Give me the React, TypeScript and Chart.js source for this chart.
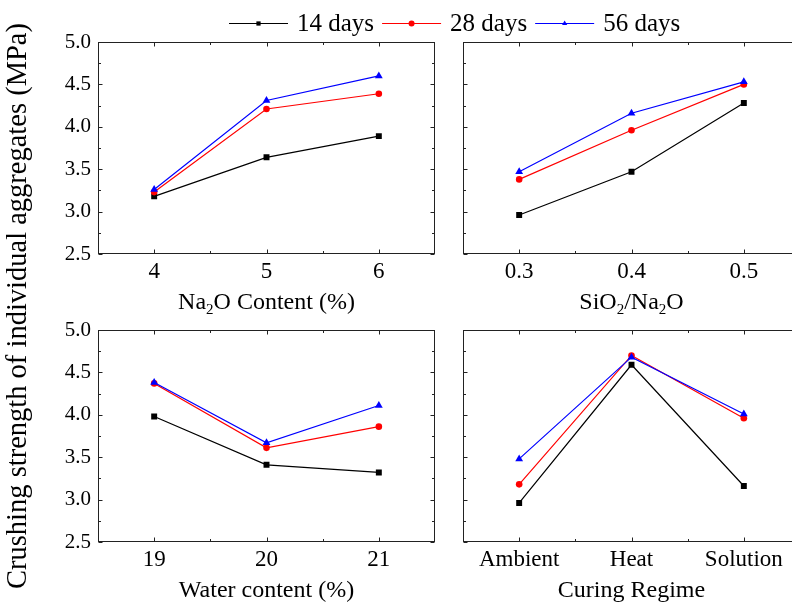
import React, { useEffect, useRef } from 'react';
import { Chart, registerables } from 'chart.js';

Chart.register(...registerables);

// Curing ages (legend order)
const seriesNames = ['14 days', '28 days', '56 days'];

// Na2O content (%)
const na2oLevels = ['4', '5', '6'];
const na2o14d = [3.18, 3.64, 3.89];
const na2o28d = [3.23, 4.21, 4.39];
const na2o56d = [3.26, 4.31, 4.6];

// SiO2/Na2O ratio
const ratioLevels = ['0.3', '0.4', '0.5'];
const ratio14d = [2.96, 3.47, 4.28];
const ratio28d = [3.38, 3.96, 4.5];
const ratio56d = [3.47, 4.16, 4.53];

// Water content (%)
const waterLevels = ['19', '20', '21'];
const water14d = [3.98, 3.41, 3.32];
const water28d = [4.37, 3.61, 3.86];
const water56d = [4.38, 3.67, 4.11];

// Curing regime
const curingRegimes = ['Ambient', 'Heat', 'Solution'];
const curing14d = [2.96, 4.59, 3.16];
const curing28d = [3.18, 4.7, 3.96];
const curing56d = [3.48, 4.68, 4.01];

// Shared strength axis
const strengthMin = 2.5;
const strengthMax = 5.0;
const strengthStep = 0.5;
const yAxisTitle = 'Crushing strength of individual aggregates (MPa)';

// ---- styling ----
const SERIF = "'Liberation Serif', 'Times New Roman', serif";
const seriesColors = ['#000000', '#ff0000', '#0000ff'];
const seriesMarkers = ['rect', 'circle', 'triangle'];
const markerRadius = [4.2, 3.3, 4.5];
const CANVAS_W = 840;
const CANVAS_H = 608;
const Y_AXIS_W = 60;
const X_AXIS_H = 40;

type TitlePart = [string, boolean];
type Area = { l: number; t: number; r: number; b: number };
type Panel = {
  labels: string[];
  series: number[][];
  title: TitlePart[];
  area: Area;
  showY: boolean;
};

const panels: Panel[] = [
  {
    labels: na2oLevels,
    series: [na2o14d, na2o28d, na2o56d],
    title: [['Na', false], ['2', true], ['O Content (%)', false]],
    area: { l: 98, t: 42, r: 435, b: 254 },
    showY: true,
  },
  {
    labels: ratioLevels,
    series: [ratio14d, ratio28d, ratio56d],
    title: [['SiO', false], ['2', true], ['/Na', false], ['2', true], ['O', false]],
    area: { l: 463, t: 42, r: 800, b: 254 },
    showY: false,
  },
  {
    labels: waterLevels,
    series: [water14d, water28d, water56d],
    title: [['Water content (%)', false]],
    area: { l: 98, t: 330, r: 435, b: 542 },
    showY: true,
  },
  {
    labels: curingRegimes,
    series: [curing14d, curing28d, curing56d],
    title: [['Curing Regime', false]],
    area: { l: 463, t: 330, r: 800, b: 542 },
    showY: false,
  },
];

function drawRich(ctx: CanvasRenderingContext2D, parts: TitlePart[], cx: number, baseline: number, size: number) {
  const subSize = Math.round(size * 0.62);
  const fontOf = (s: number) => `${s}px ${SERIF}`;
  let total = 0;
  const widths = parts.map(([txt, isSub]) => {
    ctx.font = fontOf(isSub ? subSize : size);
    const w = ctx.measureText(txt).width;
    total += w;
    return w;
  });
  let x = cx - total / 2;
  ctx.fillStyle = '#000';
  ctx.textAlign = 'left';
  ctx.textBaseline = 'alphabetic';
  parts.forEach(([txt, isSub], i) => {
    ctx.font = fontOf(isSub ? subSize : size);
    ctx.fillText(txt, x, baseline + (isSub ? size * 0.22 : 0));
    x += widths[i];
  });
}

function drawMarker(ctx: CanvasRenderingContext2D, style: string, x: number, y: number, r: number, color: string) {
  ctx.fillStyle = color;
  ctx.beginPath();
  if (style === 'rect') {
    const s = r * Math.SQRT1_2;
    ctx.rect(x - s, y - s, 2 * s, 2 * s);
  } else if (style === 'circle') {
    ctx.arc(x, y, r, 0, Math.PI * 2);
  } else {
    const h = r * 1.5;
    const w = r * Math.sqrt(3) / 2;
    ctx.moveTo(x, y - r);
    ctx.lineTo(x + w, y - r + h);
    ctx.lineTo(x - w, y - r + h);
    ctx.closePath();
  }
  ctx.fill();
}

// Closed frame with inward major/minor ticks on all four sides, plus the axis title
const framePlugin = {
  id: 'panelFrame',
  afterDraw(chart: any, _args: any, opts: any) {
    const { ctx, chartArea: a } = chart;
    const xs = chart.scales.x;
    const ys = chart.scales.y;
    const L = Math.round(a.left) + 0.5;
    const R = Math.round(a.right) - 0.5;
    const T = Math.round(a.top) + 0.5;
    const B = Math.round(a.bottom) - 0.5;
    ctx.save();
    ctx.strokeStyle = '#222';
    ctx.lineWidth = 1;
    ctx.strokeRect(L, T, R - L, B - T);
    ctx.beginPath();
    const hTick = (py: number, len: number) => {
      ctx.moveTo(L, py);
      ctx.lineTo(L + len, py);
      ctx.moveTo(R, py);
      ctx.lineTo(R - len, py);
    };
    const vTick = (px: number, len: number) => {
      ctx.moveTo(px, B);
      ctx.lineTo(px, B - len);
      ctx.moveTo(px, T);
      ctx.lineTo(px, T + len);
    };
    ys.ticks.forEach((t: any) => {
      hTick(Math.round(ys.getPixelForValue(t.value)) + 0.5, 4);
      const m = t.value + strengthStep / 2;
      if (m < ys.max) hTick(Math.round(ys.getPixelForValue(m)) + 0.5, 2.5);
    });
    const n = chart.data.labels.length;
    for (let i = 0; i < n; i++) {
      vTick(Math.round(xs.getPixelForValue(i)) + 0.5, 4);
      if (i < n - 1) vTick(Math.round(xs.getPixelForValue(i + 0.5)) + 0.5, 2.5);
    }
    ctx.stroke();
    drawRich(ctx, opts.title, (a.left + a.right) / 2, a.bottom + 55, 24);
    ctx.restore();
  },
};

// Figure-level legend and the shared strength axis title
const figurePlugin = {
  id: 'figureDecor',
  afterDraw(chart: any) {
    const ctx: CanvasRenderingContext2D = chart.ctx;
    ctx.save();
    let x = 229;
    const y = 23.5;
    seriesNames.forEach((name, i) => {
      ctx.strokeStyle = seriesColors[i];
      ctx.lineWidth = 1.2;
      ctx.beginPath();
      ctx.moveTo(x, y);
      ctx.lineTo(x + 59, y);
      ctx.stroke();
      drawMarker(ctx, seriesMarkers[i], x + 29.5, y, 3, seriesColors[i]);
      ctx.fillStyle = '#000';
      ctx.textAlign = 'left';
      ctx.textBaseline = 'middle';
      ctx.font = `25px ${SERIF}`;
      ctx.fillText(name, x + 68, y + 1);
      x += 68 + ctx.measureText(name).width + 8;
    });
    ctx.translate(19, 306);
    ctx.rotate(-Math.PI / 2);
    ctx.font = `28.5px ${SERIF}`;
    ctx.textAlign = 'center';
    ctx.textBaseline = 'middle';
    ctx.fillStyle = '#000';
    ctx.fillText(yAxisTitle, 0, 0);
    ctx.restore();
  },
};

function buildConfig(p: Panel, withFigure: boolean): any {
  return {
    type: 'line',
    data: {
      labels: p.labels,
      datasets: p.series.map((vals, i) => ({
        label: seriesNames[i],
        data: vals,
        borderColor: seriesColors[i],
        backgroundColor: seriesColors[i],
        borderWidth: 1.2,
        pointStyle: seriesMarkers[i],
        pointRadius: markerRadius[i],
        pointBorderWidth: 0,
        tension: 0,
        order: 3 - i,
      })),
    },
    options: {
      responsive: false,
      animation: false,
      events: [],
      layout: {
        padding: {
          left: p.area.l - Y_AXIS_W,
          top: p.area.t,
          right: CANVAS_W - p.area.r,
          bottom: CANVAS_H - p.area.b - X_AXIS_H,
        },
      },
      plugins: {
        legend: { display: false },
        tooltip: { enabled: false },
        panelFrame: { title: p.title },
      },
      scales: {
        x: {
          type: 'category',
          offset: true,
          grid: { display: false, drawTicks: false },
          border: { display: false },
          ticks: {
            padding: 4,
            color: '#000',
            maxRotation: 0,
            autoSkip: false,
            font: { family: SERIF, size: 23 },
          },
          afterFit: (s: any) => {
            s.height = X_AXIS_H;
          },
        },
        y: {
          min: strengthMin,
          max: strengthMax,
          grid: { display: false, drawTicks: false },
          border: { display: false },
          ticks: {
            display: p.showY,
            stepSize: strengthStep,
            padding: 7,
            color: '#000',
            font: { family: SERIF, size: 21 },
            callback: (v: any) => Number(v).toFixed(1),
          },
          afterFit: (s: any) => {
            s.width = Y_AXIS_W;
          },
        },
      },
    },
    plugins: withFigure ? [framePlugin, figurePlugin] : [framePlugin],
  };
}

export default function App() {
  const refs = [
    useRef<HTMLCanvasElement>(null),
    useRef<HTMLCanvasElement>(null),
    useRef<HTMLCanvasElement>(null),
    useRef<HTMLCanvasElement>(null),
  ];

  useEffect(() => {
    const charts = panels.map((p, i) => new Chart(refs[i].current as HTMLCanvasElement, buildConfig(p, i === 0)));
    return () => charts.forEach((c) => c.destroy());
  }, []);

  return (
    <div
      style={{
        position: 'fixed',
        left: 0,
        top: 0,
        width: 792,
        height: 608,
        overflow: 'hidden',
        background: '#fff',
      }}
    >
      {refs.map((r, i) => (
        <canvas
          key={i}
          ref={r}
          width={CANVAS_W}
          height={CANVAS_H}
          style={{ position: 'absolute', left: 0, top: 0 }}
        />
      ))}
    </div>
  );
}
